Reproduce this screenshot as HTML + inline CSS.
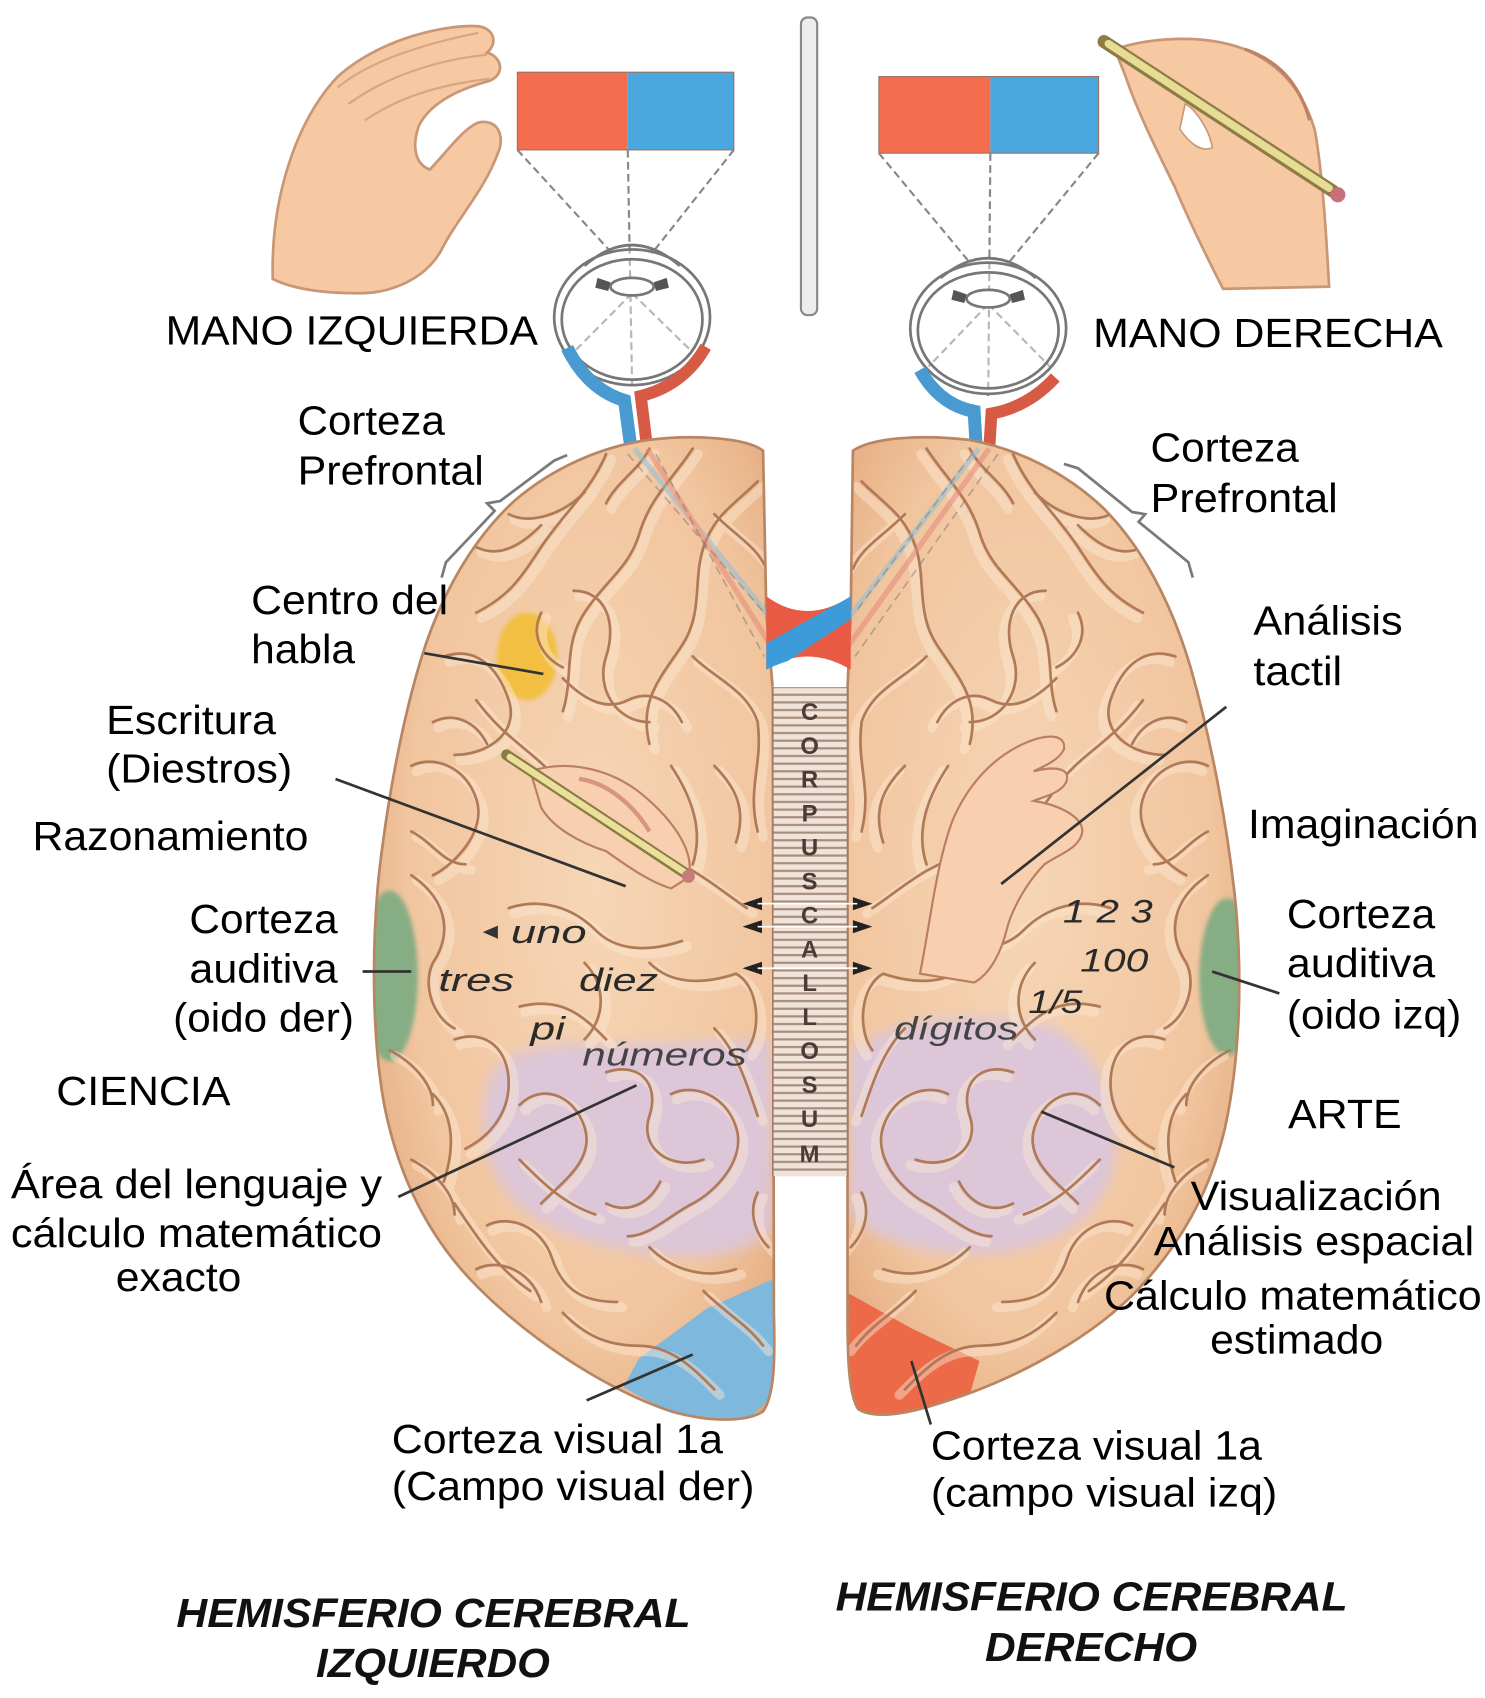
<!DOCTYPE html>
<html><head><meta charset="utf-8"><style>
html,body{margin:0;padding:0;background:#fff;}
svg{display:block;}
text{font-family:"Liberation Sans",Arial,sans-serif;}
</style></head><body>
<svg xmlns="http://www.w3.org/2000/svg" xmlns:xlink="http://www.w3.org/1999/xlink" width="1485" height="1698" viewBox="0 0 1372 1552" preserveAspectRatio="none">
<defs>
  <clipPath id="cl"><path d="M705,412 C690,400 640,397 600,402 C555,408 510,428 475,458 C440,490 412,535 393,590 C373,650 358,730 350,800 C343,870 344,950 355,1010 C368,1075 395,1130 440,1175 C490,1225 560,1270 620,1290 C655,1300 690,1300 705,1290 C716,1275 716,1240 715,1200 L714,630 L708,560 Z"/></clipPath>
  <clipPath id="cr"><path d="M788,412 C805,400 850,397 895,402 C940,410 985,432 1020,465 C1055,500 1082,550 1100,610 C1120,680 1135,760 1142,830 C1148,900 1145,970 1132,1030 C1118,1090 1090,1140 1045,1185 C1000,1228 930,1265 860,1285 C830,1294 805,1296 793,1288 C784,1275 783,1240 783,1200 L783,630 L786,560 Z"/></clipPath>
  <radialGradient id="bg1" cx="0.55" cy="0.45" r="0.65">
    <stop offset="0" stop-color="#f6d6b6"/><stop offset="0.7" stop-color="#f1c59e"/><stop offset="1" stop-color="#e3a77c"/>
  </radialGradient>
  <radialGradient id="bg2" cx="0.45" cy="0.45" r="0.65">
    <stop offset="0" stop-color="#f6d6b6"/><stop offset="0.7" stop-color="#f1c59e"/><stop offset="1" stop-color="#e3a77c"/>
  </radialGradient>
  <filter id="bl" x="-20%" y="-20%" width="140%" height="140%"><feGaussianBlur stdDeviation="6"/></filter>
  <filter id="bl2" x="-20%" y="-20%" width="140%" height="140%"><feGaussianBlur stdDeviation="2"/></filter>
  <pattern id="stripes" width="20" height="7" patternUnits="userSpaceOnUse">
    <rect width="20" height="7" fill="#efe3da"/>
    <rect y="4" width="20" height="2" fill="#a88d7c"/>
  </pattern>
  <g id="gy" fill="none" stroke-linecap="round">
    <path d="M560,415 C545,450 520,470 500,500 C480,530 470,545 440,560"/>
    <path d="M640,410 C620,440 600,455 590,490 C580,520 560,530 540,560 C520,590 530,620 520,650"/>
    <path d="M700,440 C680,460 660,470 650,500 C640,530 650,560 630,590 C610,620 590,640 600,680"/>
    <path d="M440,500 C460,510 480,500 500,480"/>
    <path d="M410,600 C440,590 460,610 470,640 C480,670 450,690 420,690"/>
    <path d="M530,540 C560,540 570,570 560,600 C550,630 570,660 600,660"/>
    <path d="M380,700 C400,690 430,700 440,730 C450,760 420,790 400,800"/>
    <path d="M640,600 C660,620 690,630 700,660 C705,700 690,720 700,760"/>
    <path d="M440,640 C470,680 500,690 520,720 C540,750 560,770 600,780 C640,790 660,810 690,830"/>
    <path d="M380,800 C410,820 420,850 400,880 C390,900 400,930 420,940"/>
    <path d="M470,830 C500,820 530,830 550,850 C570,870 600,870 630,860"/>
    <path d="M420,950 C450,940 470,960 470,990 C470,1020 450,1040 430,1050"/>
    <path d="M480,920 C520,910 540,930 560,950"/>
    <path d="M600,880 C620,900 650,900 680,890 C700,900 705,940 690,960"/>
    <path d="M480,1010 C500,990 530,1000 540,1030 C550,1060 520,1080 500,1100"/>
    <path d="M560,980 C590,970 610,990 600,1020 C590,1050 620,1070 650,1060"/>
    <path d="M620,1000 C640,990 670,1000 680,1030 C690,1060 660,1090 640,1100 C620,1110 600,1130 580,1130"/>
    <path d="M400,1000 C420,1020 420,1050 410,1080"/>
    <path d="M450,1120 C470,1110 500,1120 510,1150 C520,1180 540,1190 570,1190"/>
    <path d="M520,1200 C540,1220 560,1230 590,1230 C620,1230 640,1250 660,1270"/>
    <path d="M600,1140 C620,1160 650,1170 680,1160"/>
    <path d="M420,1100 C440,1130 460,1160 490,1180"/>
    <path d="M650,1180 C670,1200 690,1210 705,1230"/>
    <path d="M600,410 C590,430 570,440 560,460"/>
    <path d="M660,470 C680,490 700,500 708,520"/>
    <path d="M470,470 C490,480 520,470 540,450"/>
    <path d="M400,660 C420,650 440,660 450,680"/>
    <path d="M380,760 C400,770 410,790 430,790"/>
    <path d="M520,620 C540,640 560,650 580,640 C600,630 620,640 630,660"/>
    <path d="M660,700 C680,720 690,740 680,770"/>
    <path d="M360,960 C380,970 400,990 400,1010"/>
    <path d="M440,1160 C460,1150 490,1160 500,1190"/>
    <path d="M560,1100 C580,1110 600,1100 610,1080"/>
    <path d="M700,1090 C690,1110 700,1130 710,1140"/>
    <path d="M380,1060 C400,1070 420,1090 420,1110"/>
    <path d="M500,560 C490,580 500,600 520,610"/>
    <path d="M620,700 C640,730 650,760 640,790"/>
    <path d="M540,880 C560,900 560,930 540,950"/>
    <path d="M660,940 C680,960 690,990 700,1020"/>
    <path d="M480,1060 C500,1080 520,1100 550,1110"/>
  </g>
</defs>

<!-- ===== TOP: hands, rectangles, eyes ===== -->
<g transform="translate(12,0)">
<path d="M240,255 C238,180 262,110 300,70 C340,35 400,22 430,24 C445,26 448,40 438,48 C452,52 455,68 440,74 C410,82 385,95 375,115 C368,135 372,150 385,155 C400,140 415,118 430,112 C448,108 455,125 448,140 C435,175 410,200 395,230 C380,255 350,268 320,268 C290,268 260,265 240,255 Z" fill="#f6c9a3" stroke="#c99775" stroke-width="2.5"/>
<path d="M300,80 C330,55 380,40 430,30 M310,95 C345,70 390,55 438,50 M325,110 C355,90 390,78 440,72" fill="none" stroke="#d9a583" stroke-width="2"/>
</g>
<!-- right hand -->
<path d="M1030,45 C1060,35 1110,30 1150,45 C1185,60 1205,85 1215,120 C1222,160 1225,210 1228,262 L1130,264 C1115,235 1100,205 1085,170 C1070,140 1050,100 1040,70 Z" fill="#f6c9a3" stroke="#c99775" stroke-width="2.5"/>
<path d="M1095,95 C1105,100 1118,120 1120,135 C1110,140 1098,130 1090,118 Z" fill="#fff" stroke="#c99775" stroke-width="1.5"/>
<line x1="1020" y1="38" x2="1232" y2="175" stroke="#8d7d45" stroke-width="12" stroke-linecap="round"/>
<line x1="1024" y1="40" x2="1228" y2="172" stroke="#e6dc94" stroke-width="7" stroke-linecap="round"/>
<circle cx="1236" cy="178" r="7" fill="#c7707a"/>
<path d="M1150,45 C1180,55 1200,75 1210,110" fill="none" stroke="#c08063" stroke-width="3"/>

<!-- rectangles -->
<rect x="478" y="66" width="102" height="71" fill="#f46d4e"/>
<rect x="580" y="66" width="98" height="71" fill="#4aa8de"/>
<rect x="478" y="66" width="200" height="71" fill="none" stroke="#9a7060" stroke-width="1"/>
<rect x="812" y="70" width="103" height="70" fill="#f46d4e"/>
<rect x="915" y="70" width="100" height="70" fill="#4aa8de"/>
<rect x="812" y="70" width="203" height="70" fill="none" stroke="#9a7060" stroke-width="1"/>

<!-- vertical bar -->
<rect x="740" y="16" width="15" height="272" rx="6" fill="#ececec" stroke="#888" stroke-width="2"/>

<!-- dashed lines to eyes -->
<g stroke="#888" stroke-width="2" stroke-dasharray="7,4" fill="none">
  <line x1="478" y1="137" x2="566" y2="232"/><line x1="580" y1="137" x2="584" y2="352"/><line x1="678" y1="137" x2="602" y2="232"/>
  <line x1="584" y1="268" x2="530" y2="322"/><line x1="584" y1="268" x2="640" y2="322"/>
  <line x1="812" y1="140" x2="896" y2="240"/><line x1="915" y1="140" x2="913" y2="362"/><line x1="1015" y1="140" x2="932" y2="240"/>
  <line x1="913" y1="278" x2="858" y2="335"/><line x1="913" y1="278" x2="970" y2="335"/>
</g>

<!-- left eye -->
<g fill="none" stroke="#777" stroke-width="2.5">
  <ellipse cx="584" cy="290" rx="72" ry="62" fill="#fff" fill-opacity="0.4"/>
  <ellipse cx="584" cy="292" rx="65" ry="55"/>
  <path d="M540,243 Q584,205 628,243"/>
  <ellipse cx="584" cy="262" rx="20" ry="8" fill="#fff"/>
</g>
<path d="M552,254 l12,4 -2,8 -12,-3 Z M616,254 l-12,4 2,8 12,-3 Z" fill="#555"/>
<path d="M524,318 Q543,356 577,366 L583,410" fill="none" stroke="#4a9ad2" stroke-width="12"/>
<path d="M652,317 Q632,352 592,362 L598,410" fill="none" stroke="#d65a44" stroke-width="11"/>
<!-- right eye -->
<g fill="none" stroke="#777" stroke-width="2.5">
  <ellipse cx="913" cy="300" rx="72" ry="60" fill="#fff" fill-opacity="0.4"/>
  <ellipse cx="913" cy="302" rx="65" ry="53"/>
  <path d="M869,254 Q913,218 957,254"/>
  <ellipse cx="913" cy="273" rx="20" ry="8" fill="#fff"/>
</g>
<path d="M881,265 l12,4 -2,8 -12,-3 Z M945,265 l-12,4 2,8 12,-3 Z" fill="#555"/>
<path d="M850,338 Q868,370 900,376 L902,410" fill="none" stroke="#4a9ad2" stroke-width="12"/>
<path d="M975,345 Q950,372 916,378 L914,410" fill="none" stroke="#d65a44" stroke-width="11"/>

<!-- ===== BRAIN ===== -->
<g clip-path="url(#cl)">
  <rect x="340" y="390" width="380" height="920" fill="url(#bg1)"/>
  <path d="M455,980 C470,958 520,952 560,955 L712,950 L714,1125 C690,1145 650,1152 610,1147 C560,1142 500,1128 470,1092 C445,1062 440,1010 455,980 Z" fill="#dcc6d8" filter="url(#bl)"/>
  <ellipse cx="487" cy="600" rx="28" ry="40" fill="#f2bf42" filter="url(#bl2)"/>
  <ellipse cx="360" cy="892" rx="26" ry="78" fill="#86ad84" filter="url(#bl2)"/>
  <path d="M712,1170 L653,1196 L590,1242 L576,1268 L620,1292 L690,1298 L716,1275 L716,1170 Z" fill="#7eb8dc"/>
  <use xlink:href="#gy" transform="translate(5,5)" stroke="#fde9d4" stroke-width="9" opacity="0.45"/>
  <use xlink:href="#gy" stroke="#b07a57" stroke-width="2.5"/>
</g>
<path d="M705,412 C690,400 640,397 600,402 C555,408 510,428 475,458 C440,490 412,535 393,590 C373,650 358,730 350,800 C343,870 344,950 355,1010 C368,1075 395,1130 440,1175 C490,1225 560,1270 620,1290 C655,1300 690,1300 705,1290 C716,1275 716,1240 715,1200 L714,630 L708,560 Z" fill="none" stroke="#b88663" stroke-width="2.5"/>

<g clip-path="url(#cr)">
  <rect x="775" y="390" width="380" height="920" fill="url(#bg2)"/>
  <path d="M785,960 C830,930 900,925 960,935 C1010,950 1035,1000 1030,1060 C1020,1110 980,1140 920,1145 C860,1150 810,1135 785,1110 Z" fill="#dcc6d8" filter="url(#bl)"/>
  <ellipse cx="1134" cy="893" rx="26" ry="72" fill="#86ad84" filter="url(#bl2)"/>
  <path d="M780,1180 L842,1214 L905,1244 L895,1278 L840,1295 L790,1295 L780,1270 Z" fill="#ec6a48"/>
  <g transform="translate(1496,0) scale(-1,1)">
    <use xlink:href="#gy" transform="translate(5,5)" stroke="#fde9d4" stroke-width="9" opacity="0.45"/>
    <use xlink:href="#gy" stroke="#b07a57" stroke-width="2.5"/>
  </g>
</g>
<path d="M788,412 C805,400 850,397 895,402 C940,410 985,432 1020,465 C1055,500 1082,550 1100,610 C1120,680 1135,760 1142,830 C1148,900 1145,970 1132,1030 C1118,1090 1090,1140 1045,1185 C1000,1228 930,1265 860,1285 C830,1294 805,1296 793,1288 C784,1275 783,1240 783,1200 L783,630 L786,560 Z" fill="none" stroke="#b88663" stroke-width="2.5"/>

<!-- optic tracts inside brain -->
<g fill="none" opacity="0.55" stroke-width="5">
  <path d="M586,410 L712,565" stroke="#8fbfd8"/>
  <path d="M598,410 L712,590" stroke="#e48a78"/>
  <path d="M904,410 L784,565" stroke="#8fbfd8"/>
  <path d="M914,410 L784,590" stroke="#e48a78"/>
</g>
<g fill="none" opacity="0.5" stroke="#777" stroke-width="1.5" stroke-dasharray="8,5">
  <path d="M580,415 L706,560"/><path d="M606,415 L706,600"/>
  <path d="M898,415 L790,560"/><path d="M922,415 L790,600"/>
</g>

<!-- chiasm -->
<path d="M708,545 Q745,572 786,545 L786,612 Q745,588 708,612 Z" fill="#e85a44"/>
<path d="M708,588 L708,612 Q716,608 728,604 L786,566 L786,545 Q778,550 766,556 Z" fill="#3c9bd8"/>
<path d="M714,628 Q748,596 782,628 Z" fill="#fff"/>

<!-- corpus callosum -->
<rect x="714" y="628" width="69" height="447" fill="url(#stripes)"/>
<line x1="714" y1="628" x2="714" y2="1075" stroke="#a07b68" stroke-width="1.5"/>
<line x1="783" y1="628" x2="783" y2="1075" stroke="#a07b68" stroke-width="1.5"/>
<g font-size="22" font-weight="bold" fill="#4a3b36" text-anchor="middle">
  <text x="748" y="658">C</text><text x="748" y="689">O</text><text x="748" y="720">R</text><text x="748" y="751">P</text><text x="748" y="782">U</text><text x="748" y="813">S</text>
  <text x="748" y="844">C</text><text x="748" y="875">A</text><text x="748" y="906">L</text><text x="748" y="937">L</text><text x="748" y="968">O</text><text x="748" y="999">S</text><text x="748" y="1030">U</text><text x="748" y="1062">M</text>
</g>
<g fill="#222">
  <path d="M686,826 l18,-6 v12 Z"/><path d="M806,826 l-18,-6 v12 Z"/>
  <path d="M686,847 l18,-6 v12 Z"/><path d="M806,847 l-18,-6 v12 Z"/>
  <path d="M686,885 l18,-6 v12 Z"/><path d="M806,885 l-18,-6 v12 Z"/>
</g>
<g stroke="#fff" stroke-width="1.5"><line x1="700" y1="826" x2="792" y2="826"/><line x1="700" y1="847" x2="792" y2="847"/><line x1="700" y1="885" x2="792" y2="885"/></g>

<!-- hand in left hemisphere with pencil -->
<path d="M490,705 C520,695 560,700 592,725 C625,752 642,780 636,802 L620,812 C600,806 580,792 560,778 C535,770 510,756 500,738 Z" fill="#f8d0b0" stroke="#b97f60" stroke-width="2"/>
<path d="M535,712 C560,715 585,735 600,760" fill="none" stroke="#c2705a" stroke-width="4" opacity="0.6"/>
<line x1="468" y1="690" x2="636" y2="800" stroke="#8a7a45" stroke-width="10" stroke-linecap="round"/>
<line x1="471" y1="692" x2="632" y2="797" stroke="#ebe09a" stroke-width="6" stroke-linecap="round"/>
<circle cx="636" cy="801" r="6" fill="#c77b7b"/>
<!-- hand in right hemisphere -->
<path d="M850,890 C860,840 865,790 880,750 C895,715 920,690 950,678 C970,670 985,672 983,685 C978,695 965,700 955,705 C975,700 990,702 985,715 C980,725 965,728 955,732 C975,735 1000,745 1000,760 C998,775 980,780 965,790 C950,805 935,830 930,850 C925,870 915,890 900,898 Z" fill="#f8d0b0" stroke="#b97f60" stroke-width="2"/>

<!-- italic labels inside brain -->
<g font-style="italic" font-size="30" fill="#2a2a2a">
  <path d="M446,852 l14,-6 v12 Z" fill="#333"/>
  <text x="472" y="862" textLength="70" lengthAdjust="spacingAndGlyphs">uno</text>
  <text x="405" y="906" textLength="70" lengthAdjust="spacingAndGlyphs">tres</text>
  <text x="535" y="906" textLength="73" lengthAdjust="spacingAndGlyphs">diez</text>
  <text x="490" y="950" textLength="32" lengthAdjust="spacingAndGlyphs">pi</text>
  <text x="538" y="974" textLength="152" lengthAdjust="spacingAndGlyphs" fill="#444">números</text>
  <text x="982" y="843" textLength="83" lengthAdjust="spacingAndGlyphs">1 2 3</text>
  <text x="998" y="888" textLength="63" lengthAdjust="spacingAndGlyphs">100</text>
  <text x="950" y="926" textLength="50" lengthAdjust="spacingAndGlyphs">1/5</text>
  <text x="826" y="950" textLength="115" lengthAdjust="spacingAndGlyphs" fill="#444">dígitos</text>
</g>

<!-- prefrontal braces -->
<path d="M524,416 L512,421 L462,458 L450,460 L457,467 L412,514 L408,528" fill="none" stroke="#7a7a7a" stroke-width="2.5"/>
<path d="M983,424 L996,428 L1046,468 L1058,470 L1052,477 L1098,514 L1102,528" fill="none" stroke="#7a7a7a" stroke-width="2.5"/>

<!-- leader lines -->
<g stroke="#333" stroke-width="2.5" fill="none">
  <line x1="392" y1="597" x2="502" y2="616"/>
  <line x1="310" y1="712" x2="578" y2="810"/>
  <line x1="335" y1="888" x2="380" y2="888"/>
  <line x1="368" y1="1094" x2="588" y2="992"/>
  <line x1="1133" y1="646" x2="925" y2="808"/>
  <line x1="1120" y1="888" x2="1182" y2="908"/>
  <line x1="1085" y1="1067" x2="962" y2="1016"/>
  <line x1="542" y1="1280" x2="640" y2="1238"/>
  <line x1="860" y1="1302" x2="842" y2="1244"/>
</g>

<!-- ===== LABELS ===== -->
<g font-size="37" fill="#000">
  <text x="153" y="315" textLength="344" lengthAdjust="spacingAndGlyphs">MANO IZQUIERDA</text>
  <text x="1010" y="317" textLength="323" lengthAdjust="spacingAndGlyphs">MANO DERECHA</text>
  <text x="275" y="397" textLength="136" lengthAdjust="spacingAndGlyphs">Corteza</text>
  <text x="275" y="443" textLength="172" lengthAdjust="spacingAndGlyphs">Prefrontal</text>
  <text x="1063" y="422" textLength="137" lengthAdjust="spacingAndGlyphs">Corteza</text>
  <text x="1063" y="468" textLength="173" lengthAdjust="spacingAndGlyphs">Prefrontal</text>
  <text x="232" y="561" textLength="182" lengthAdjust="spacingAndGlyphs">Centro del</text>
  <text x="232" y="606" textLength="96" lengthAdjust="spacingAndGlyphs">habla</text>
  <text x="98" y="671" textLength="157" lengthAdjust="spacingAndGlyphs">Escritura</text>
  <text x="98" y="715" textLength="172" lengthAdjust="spacingAndGlyphs">(Diestros)</text>
  <text x="30" y="777" textLength="255" lengthAdjust="spacingAndGlyphs">Razonamiento</text>
  <text x="175" y="853" textLength="137" lengthAdjust="spacingAndGlyphs">Corteza</text>
  <text x="175" y="898" textLength="137" lengthAdjust="spacingAndGlyphs">auditiva</text>
  <text x="160" y="943" textLength="167" lengthAdjust="spacingAndGlyphs">(oido der)</text>
  <text x="52" y="1010" textLength="161" lengthAdjust="spacingAndGlyphs">CIENCIA</text>
  <text x="10" y="1095" textLength="343" lengthAdjust="spacingAndGlyphs">Área del lenguaje y</text>
  <text x="10" y="1140" textLength="343" lengthAdjust="spacingAndGlyphs">cálculo matemático</text>
  <text x="107" y="1180" textLength="116" lengthAdjust="spacingAndGlyphs">exacto</text>
  <text x="1158" y="580" textLength="138" lengthAdjust="spacingAndGlyphs">Análisis</text>
  <text x="1158" y="626" textLength="82" lengthAdjust="spacingAndGlyphs">tactil</text>
  <text x="1153" y="766" textLength="213" lengthAdjust="spacingAndGlyphs">Imaginación</text>
  <text x="1189" y="848" textLength="137" lengthAdjust="spacingAndGlyphs">Corteza</text>
  <text x="1189" y="893" textLength="137" lengthAdjust="spacingAndGlyphs">auditiva</text>
  <text x="1189" y="940" textLength="161" lengthAdjust="spacingAndGlyphs">(oido izq)</text>
  <text x="1190" y="1031" textLength="105" lengthAdjust="spacingAndGlyphs">ARTE</text>
  <text x="1100" y="1106" textLength="232" lengthAdjust="spacingAndGlyphs">Visualización</text>
  <text x="1066" y="1147" textLength="296" lengthAdjust="spacingAndGlyphs">Análisis espacial</text>
  <text x="1020" y="1197" textLength="349" lengthAdjust="spacingAndGlyphs">Cálculo matemático</text>
  <text x="1118" y="1237" textLength="160" lengthAdjust="spacingAndGlyphs">estimado</text>
  <text x="362" y="1328" textLength="306" lengthAdjust="spacingAndGlyphs">Corteza visual 1a</text>
  <text x="362" y="1371" textLength="335" lengthAdjust="spacingAndGlyphs">(Campo visual der)</text>
  <text x="860" y="1334" textLength="306" lengthAdjust="spacingAndGlyphs">Corteza visual 1a</text>
  <text x="860" y="1377" textLength="320" lengthAdjust="spacingAndGlyphs">(campo visual izq)</text>
</g>
<g font-size="37" font-weight="bold" font-style="italic" fill="#111">
  <text x="163" y="1487" textLength="475" lengthAdjust="spacingAndGlyphs">HEMISFERIO CEREBRAL</text>
  <text x="292" y="1533" textLength="216" lengthAdjust="spacingAndGlyphs">IZQUIERDO</text>
  <text x="772" y="1472" textLength="473" lengthAdjust="spacingAndGlyphs">HEMISFERIO CEREBRAL</text>
  <text x="910" y="1518" textLength="196" lengthAdjust="spacingAndGlyphs">DERECHO</text>
</g>
</svg>
</body></html>
